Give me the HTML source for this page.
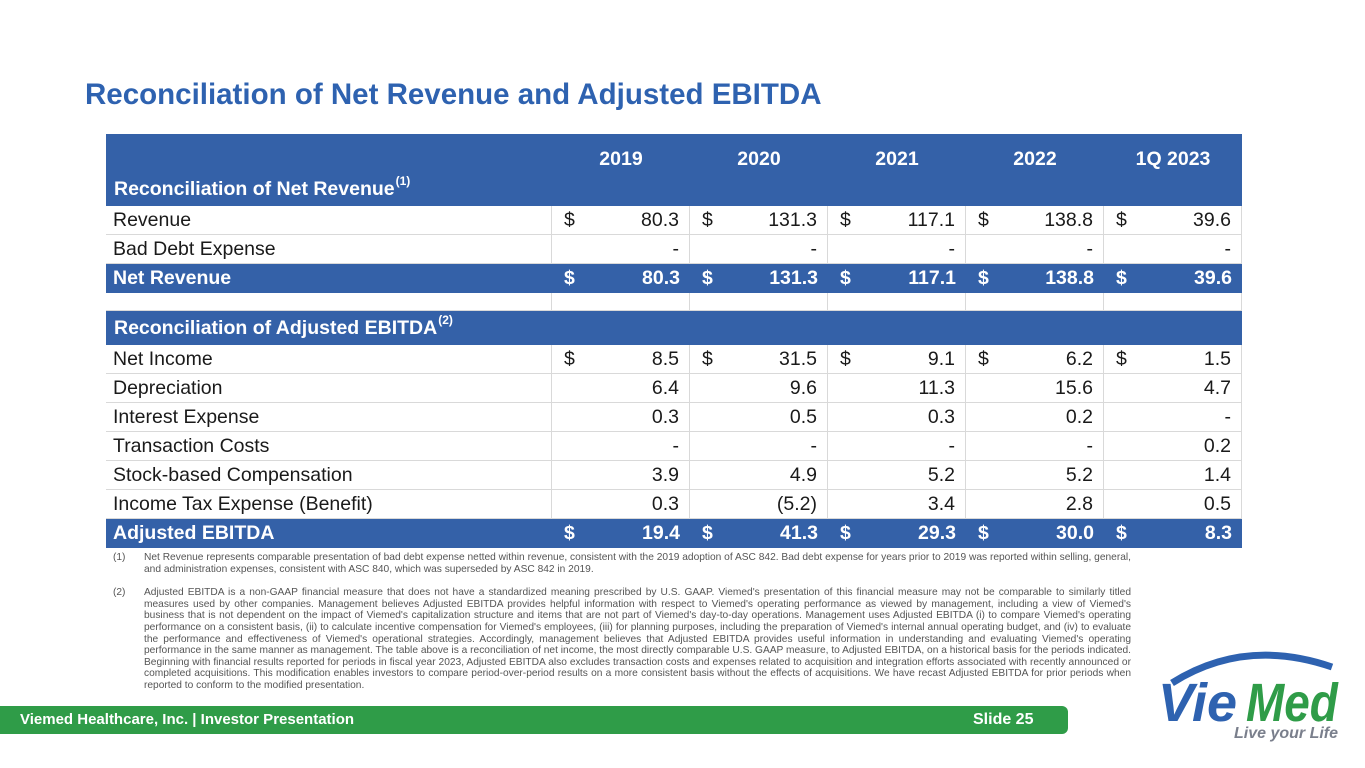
<!DOCTYPE html>
<html><head><meta charset="utf-8">
<style>
body{margin:0;width:1365px;height:768px;background:#fff;position:relative;overflow:hidden;font-family:"Liberation Sans",sans-serif;}
.abs{position:absolute;}
#title{left:85px;top:78px;font-size:29.5px;font-weight:bold;color:#2e62b0;white-space:nowrap;}
.row{position:absolute;left:106px;width:1136px;}
.cell{position:absolute;top:0;height:100%;box-sizing:border-box;font-size:19.5px;color:#1a1a1a;display:flex;align-items:center;white-space:nowrap;}
.blue{background:#3461a8;}
.blue .cell{color:#fff;font-weight:bold;}
.plain .cell{border-right:1px solid #d9d9d9;border-bottom:1px solid #d9d9d9;}
.num{justify-content:flex-end;padding-right:10px;}
.dol{position:absolute;left:12px;}
.sup{font-size:12px;position:relative;top:-8px;margin-left:1px;}
#notes{left:113px;top:552px;width:1018px;font-size:10.2px;color:#555;line-height:11.6px;}
.note{display:flex;margin-bottom:12px;}
.note .n{width:31px;flex:none;}
.note .t{text-align:justify;}
#footer{left:0;top:706px;width:1068px;height:28px;background:#2f9c48;border-radius:0 6px 6px 0;color:#fff;font-weight:bold;font-size:15px;}
</style></head><body>
<div id="title" class="abs">Reconciliation of Net Revenue and Adjusted EBITDA</div>
<div id="table"></div>
<div id="notes" class="abs">
<div class="note"><span class="n">(1)</span><span class="t">Net Revenue represents comparable presentation of bad debt expense netted within revenue, consistent with the 2019 adoption of ASC 842. Bad debt expense for years prior to 2019 was reported within selling, general, and administration expenses, consistent with ASC 840, which was superseded by ASC 842 in 2019.</span></div>
<div class="note"><span class="n">(2)</span><span class="t">Adjusted EBITDA is a non-GAAP financial measure that does not have a standardized meaning prescribed by U.S. GAAP. Viemed's presentation of this financial measure may not be comparable to similarly titled measures used by other companies. Management believes Adjusted EBITDA provides helpful information with respect to Viemed's operating performance as viewed by management, including a view of Viemed's business that is not dependent on the impact of Viemed's capitalization structure and items that are not part of Viemed's day-to-day operations. Management uses Adjusted EBITDA (i) to compare Viemed's operating performance on a consistent basis, (ii) to calculate incentive compensation for Viemed's employees, (iii) for planning purposes, including the preparation of Viemed's internal annual operating budget, and (iv) to evaluate the performance and effectiveness of Viemed's operational strategies. Accordingly, management believes that Adjusted EBITDA provides useful information in understanding and evaluating Viemed's operating performance in the same manner as management. The table above is a reconciliation of net income, the most directly comparable U.S. GAAP measure, to Adjusted EBITDA, on a historical basis for the periods indicated. Beginning with financial results reported for periods in fiscal year 2023, Adjusted EBITDA also excludes transaction costs and expenses related to acquisition and integration efforts associated with recently announced or completed acquisitions. This modification enables investors to compare period-over-period results on a more consistent basis without the effects of acquisitions. We have recast Adjusted EBITDA for prior periods when reported to conform to the modified presentation.</span></div>
</div>
<div id="footer" class="abs">
<span class="abs" style="left:20px;top:5px">Viemed Healthcare, Inc. | Investor Presentation</span>
<span class="abs" style="left:973px;top:5px;font-size:16px">Slide 25</span>
</div>
<div class="abs" style="left:1150px;top:645px;width:200px;height:100px">
<svg width="200" height="100"><path d="M22 38 Q95 -8 182 22" stroke="#2e62b0" stroke-width="7" fill="none"/>
<text x="8" y="76" font-family="Liberation Sans" font-style="italic" font-weight="bold" font-size="54" fill="#2e62b0">Vie</text>
<text x="96" y="76" font-family="Liberation Sans" font-style="italic" font-weight="bold" font-size="54" fill="#2f9c48" transform="translate(96 0) scale(0.85 1) translate(-96 0)">Med</text>
<text x="84" y="93" font-family="Liberation Sans" font-style="italic" font-weight="bold" font-size="16" fill="#7a7f8c">Live your Life</text></svg></div>
<script>
const years=["2019","2020","2021","2022","1Q 2023"];
const labels=["Revenue","Bad Debt Expense","Net Revenue","","Net Income","Depreciation","Interest Expense","Transaction Costs","Stock-based Compensation","Income Tax Expense (Benefit)","Adjusted EBITDA"];
const v2019=["80.3","-","80.3","","8.5","6.4","0.3","-","3.9","0.3","19.4"];
const v2020=["131.3","-","131.3","","31.5","9.6","0.5","-","4.9","(5.2)","41.3"];
const v2021=["117.1","-","117.1","","9.1","11.3","0.3","-","5.2","3.4","29.3"];
const v2022=["138.8","-","138.8","","6.2","15.6","0.2","-","5.2","2.8","30.0"];
const v1q23=["39.6","-","39.6","","1.5","4.7","-","0.2","1.4","0.5","8.3"];
const dollarRows=[0,2,4,10];
const blueRows=[2,10];
const series=[v2019,v2020,v2021,v2022,v1q23];
const T=document.getElementById('table');
const colX=i=>446+i*138;
function mkRow(top,h,cls){const r=document.createElement('div');r.className='row '+cls;r.style.top=top+'px';r.style.height=h+'px';T.appendChild(r);return r;}
const hdr=mkRow(134,72,'blue');


years.forEach((y,i)=>{const c=document.createElement('div');c.className='cell';c.style.left=colX(i)+'px';c.style.width='138px';c.style.height='50px';c.style.justifyContent='center';c.textContent=y;


hdr.appendChild(c);});
const hl=document.createElement('div');hl.className='cell';hl.style.left='8px';hl.style.top='38px';hl.style.height='34px';hl.innerHTML='Reconciliation of Net Revenue<span class="sup">(1)</span>';


hdr.appendChild(hl);
const tops=[206,235,264,293,345,374,403,432,461,490,519];
const hts=[29,29,29,18,29,29,29,29,29,29,29];
labels.forEach((lab,ri)=>{
 const blue=blueRows.includes(ri);
 const r=mkRow(tops[ri],hts[ri],blue?'blue':'plain');
 
 
 const l=document.createElement('div');l.className='cell';l.style.left='0';l.style.width='446px';l.style.paddingLeft='7px';l.textContent=lab;
 
 
 r.appendChild(l);
 series.forEach((s,ci)=>{const c=document.createElement('div');c.className='cell num';c.style.left=colX(ci)+'px';c.style.width='138px';
  
  
  if(dollarRows.includes(ri)){const d=document.createElement('span');d.className='dol';d.textContent='$';c.appendChild(d);}
  c.appendChild(document.createTextNode(s[ri]));r.appendChild(c);});
});
const eh=mkRow(311,34,'blue');


const ec=document.createElement('div');ec.className='cell';ec.style.left='8px';ec.innerHTML='Reconciliation of Adjusted EBITDA<span class="sup">(2)</span>';eh.appendChild(ec);
</script>
</body></html>
